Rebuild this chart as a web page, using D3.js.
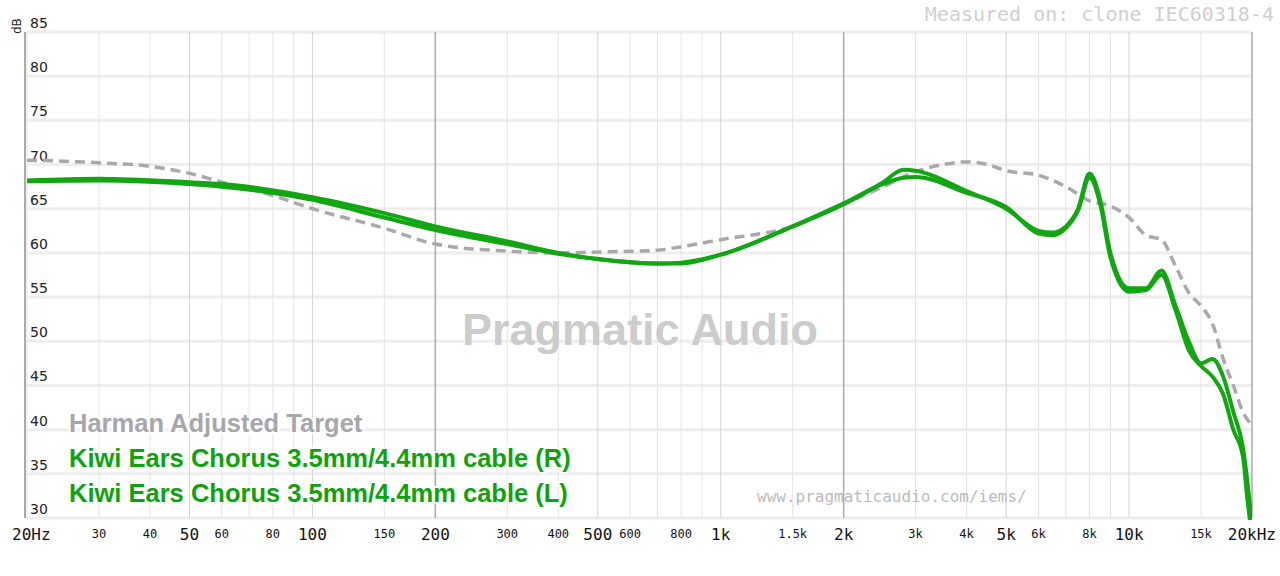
<!DOCTYPE html>
<html><head><meta charset="utf-8">
<script src="https://cdn.jsdelivr.net/npm/d3@7"></script>
<style>body{margin:0;background:#fff}</style>
</head><body>
<script>
var targetFreq = [20,30,40,50,60,80,100,150,200,300,400,500,700,800,1000,1500,2000,2500,3000,3500,4000,4500,5000,6000,7000,8000,9000,10000,11000,12000,13000,14000,15000,16000,17000,18000,19000,20000];
var targetDb   = [70.5,70.2,69.8,69,68,66.5,65,62.8,61,60.2,60,60.1,60.3,60.7,61.5,63,65.5,67.5,69.2,70,70.3,70,69.3,68.8,67.5,65.9,65.3,64,62,61.5,58.5,55.5,54,52,48,45,42,40.5];

var iemFreq = [20,30,50,60,100,150,200,300,400,500,700,800,1000,1500,2000,2500,2800,3000,4000,5000,6000,6500,7000,7500,8000,8500,9000,10000,11000,12000,13000,14000,15000,16000,17000,18000,19000,19500,20000];
var rightDb = [68.2,68.4,68,67.8,66.3,64.5,63,61.3,60,59.3,58.8,58.8,59.8,63,65.5,68,69.4,69.3,67,65,62.5,62.3,63,65,69,66,60,56,56,58,54,50,47.5,48,46,42,38,34,29];
var leftDb  = [68.1,68.2,67.8,67.5,66,64,62.6,61,59.9,59.3,58.8,58.9,59.8,63,65.6,67.8,68.5,68.6,66.8,65.2,62.2,62,62.8,64.8,68.5,65.5,59.5,55.6,55.8,57.5,53.5,49,47.2,46,44,40,37,32,28];

var xTicks = [20,30,40,50,60,80,100,150,200,300,400,500,600,800,1000,1500,2000,3000,4000,5000,6000,8000,10000,15000,20000];
var xLabels = ["20Hz","30","40","50","60","80","100","150","200","300","400","500","600","800","1k","1.5k","2k","3k","4k","5k","6k","8k","10k","15k","20kHz"];
var bigTicks = [20,50,100,200,500,1000,2000,5000,10000,20000];
var yTicks = [30,35,40,45,50,55,60,65,70,75,80,85];

var W = 1280, H = 576, x0 = 27, x1 = 1252, y0 = 32, y1 = 518;
var svg = d3.select("body").append("svg").attr("width", W).attr("height", H);
var x = d3.scaleLog().domain([20,20000]).range([x0,x1]);
var y = d3.scaleLinear().domain([30,85]).range([y1,y0]);

// grid
svg.append("g").selectAll("line").data(yTicks).join("line")
  .attr("x1", x0).attr("x2", x1).attr("y1", d=>y(d)).attr("y2", d=>y(d))
  .attr("stroke", "#eee").attr("stroke-width", 3);
var vTicks = [20,30,40,50,60,70,80,90,100,150,200,300,400,500,600,700,800,900,1000,1500,2000,3000,4000,5000,6000,7000,8000,9000,10000,15000,20000];
svg.append("g").selectAll("line").data(vTicks).join("line")
  .attr("x1", d=>x(d)).attr("x2", d=>x(d)).attr("y1", y0).attr("y2", y1)
  .attr("stroke", d => (d===200||d===2000||d===20000) ? "#aaa" : ([100,1000,10000,500,5000,50].indexOf(d)>=0 ? "#d4d4d4" : "#e4e4e4"))
  .attr("stroke-width", d => (d===200||d===2000||d===20000) ? 1.5 : 1);
svg.append("line").attr("x1", 25).attr("x2", 25).attr("y1", y0).attr("y2", y1).attr("stroke", "#aaa").attr("stroke-width", 2);

// y labels
svg.append("g").selectAll("text").data(yTicks).join("text")
  .attr("x", 30).attr("y", d=>y(d)-4).text(d=>d)
  .attr("font-family","DejaVu Sans").attr("font-size",14).attr("fill","#222");
svg.append("text").attr("transform","translate(21,34) rotate(-90)").text("dB")
  .attr("font-family","DejaVu Sans").attr("font-size",12).attr("fill","#222");

// x labels
svg.append("g").selectAll("text").data(xTicks).join("text")
  .attr("x", (d,i)=> i===0 ? 12 : (i===xTicks.length-1 ? 1276 : x(d)))
  .attr("y", d => bigTicks.indexOf(d)>=0 ? 540 : 538)
  .attr("text-anchor", (d,i)=> i===0 ? "start" : (i===xTicks.length-1 ? "end" : "middle"))
  .attr("font-family","DejaVu Sans Mono")
  .attr("font-size", d => bigTicks.indexOf(d)>=0 ? 16 : 12)
  .attr("fill","#111").text((d,i)=>xLabels[i]);

// watermarks
svg.append("text").attr("x", 640).attr("y", 345).attr("text-anchor","middle")
  .attr("font-family","Liberation Sans").attr("font-weight","bold").attr("font-size",45)
  .attr("fill","#ccc").text("Pragmatic Audio");
svg.append("text").attr("x", 1274).attr("y", 21).attr("text-anchor","end")
  .attr("font-family","DejaVu Sans Mono").attr("font-size",20).attr("fill","#d0d0d0")
  .text("Measured on: clone IEC60318-4");
svg.append("text").attr("x", 757).attr("y", 502)
  .attr("font-family","DejaVu Sans Mono").attr("font-size",16).attr("fill","#bbb")
  .text("www.pragmaticaudio.com/iems/");

// curves
svg.append("clipPath").attr("id","c").append("rect").attr("x",x0).attr("y",y0).attr("width",x1-x0).attr("height",y1-y0+2);
var g = svg.append("g").attr("clip-path","url(#c)");
var line = d3.line().x(d=>x(d[0])).y(d=>y(d[1])).curve(d3.curveMonotoneX);
g.append("path").attr("d", line(d3.zip(targetFreq,targetDb))).attr("fill","none")
  .attr("stroke","#aaa7ad").attr("stroke-width",3.5).attr("stroke-dasharray","10,6");
g.append("path").attr("d", line(d3.zip(iemFreq,rightDb))).attr("fill","none")
  .attr("stroke","#12a612").attr("stroke-width",4);
g.append("path").attr("d", line(d3.zip(iemFreq,leftDb))).attr("fill","none")
  .attr("stroke","#12a612").attr("stroke-width",4);

// legend
var legend = [["Harman Adjusted Target","#a9a6ab"],["Kiwi Ears Chorus 3.5mm/4.4mm cable (R)","#0ea30e"],["Kiwi Ears Chorus 3.5mm/4.4mm cable (L)","#0ea30e"]];
svg.append("g").selectAll("text").data(legend).join("text")
  .attr("x", 69).attr("y", (d,i)=>432+i*35).text(d=>d[0]).attr("fill", d=>d[1])
  .attr("font-family","Liberation Sans").attr("font-weight","bold").attr("font-size",25.5)
  .attr("stroke","#fff").attr("stroke-width",4).attr("paint-order","stroke");
</script>
</body></html>
